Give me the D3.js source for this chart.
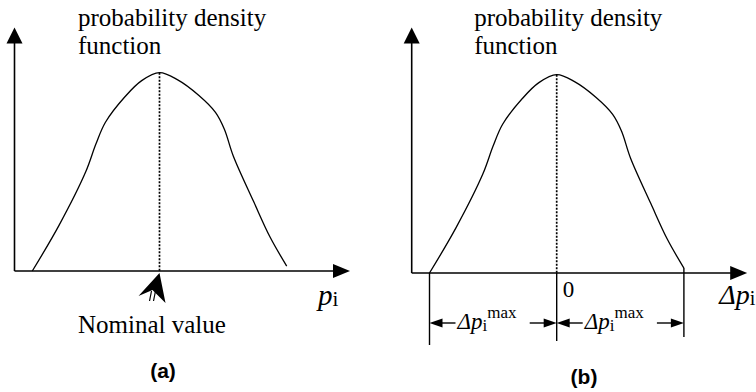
<!DOCTYPE html>
<html>
<head>
<meta charset="utf-8">
<script src="https://cdn.jsdelivr.net/npm/d3@7"></script>
<style>
  html, body { margin: 0; padding: 0; background: #fff; }
  svg { display: block; }
  .serif { font-family: "Liberation Serif", "Times New Roman", serif; fill: #000; }
  .sans { font-family: "Liberation Sans", Arial, sans-serif; font-weight: bold; fill: #000; }
</style>
</head>
<body>
<svg id="chart" width="756" height="392"></svg>
<script>
// Normalised deviation from nominal (−1 … 1 = ±Δp_i^max) and relative density
const deviation = [-1.0, -0.79, -0.58, -0.50, -0.425, -0.27, -0.14, 0, 0.14, 0.31, 0.44, 0.51, 0.58, 0.74, 0.87, 1.0];
const density   = [0, 0.23, 0.50, 0.64, 0.75, 0.88, 0.96, 1, 0.965, 0.885, 0.80, 0.715, 0.58, 0.35, 0.17, 0.025];
const yTitle = ["probability density", "function"];
const panelLabels = ["(a)", "(b)"];
const nominalLabel = "Nominal value";
const zeroLabel = "0";

const svg = d3.select("#chart");
const pts = deviation.map((d, i) => ({ x: d, y: density[i] }));

function arrowHead(g, x, y, dir, len, half) {
  // filled triangle, tip at (x,y), pointing in dir
  let p;
  if (dir === "up") p = [[x, y], [x - half, y + len], [x + half, y + len]];
  else if (dir === "right") p = [[x, y], [x - len, y - half], [x - len, y + half]];
  else p = [[x, y], [x + len, y - half], [x + len, y + half]];
  g.append("path").attr("d", "M" + p.join("L") + "Z").attr("fill", "#000");
}

function panel(dx, dy, kind) {
  const g = svg.append("g").attr("transform", `translate(${dx},${dy})`);
  const x = d3.scaleLinear().domain([-1, 1]).range([32.3, 286.7]);
  const y = d3.scaleLinear().domain([0, 1]).range([271, 72.7]);
  const ox = 14.5, oy = y(0);

  // axes with arrowheads
  g.append("line").attr("x1", ox).attr("y1", oy).attr("x2", ox).attr("y2", 40)
    .attr("stroke", "#000").attr("stroke-width", 1.6);
  arrowHead(g, ox, 27.5 - dy, "up", 16, 8);
  const xTip = 350;
  g.append("line").attr("x1", ox).attr("y1", oy).attr("x2", xTip - 12).attr("y2", oy)
    .attr("stroke", "#000").attr("stroke-width", 1.6);
  arrowHead(g, xTip, oy, "right", 17, 7);

  // density curve
  const line = d3.line().x(d => x(d.x)).y(d => y(d.y)).curve(d3.curveCatmullRom.alpha(0.5));
  g.append("path").datum(pts).attr("d", line)
    .attr("fill", "none").attr("stroke", "#000").attr("stroke-width", 1.3);

  // dotted centre line
  g.append("line").attr("x1", x(0)).attr("x2", x(0)).attr("y1", y(1)).attr("y2", oy)
    .attr("stroke", "#000").attr("stroke-width", 1.7).attr("stroke-dasharray", "2,1.5");

  // y title
  const t = g.append("text").attr("class", "serif").attr("font-size", 25);
  yTitle.forEach((s, i) => t.append("tspan").attr("x", 78 - (kind === "b" ? 1 : 0)).attr("y", 26 + i * 28 - dy).text(s));

  return { g, x, y, oy };
}

// ---- panel (a)
const A = panel(0, 0, "a");
// nominal value pointer
(function () {
  const g = A.g, cx = A.x(0), ty = A.oy + 2;
  g.append("path")
    .attr("d", `M${cx},${ty} L${cx - 21},${ty + 23} L${cx - 7},${ty + 17} L${cx + 6},${ty + 30} Z`)
    .attr("fill", "#000");
  [-8, -4].forEach(o =>
    g.append("line").attr("x1", cx + o).attr("y1", ty + 18).attr("x2", cx + o - 2).attr("y2", ty + 28)
      .attr("stroke", "#000").attr("stroke-width", 1.2));
  g.append("text").attr("class", "serif").attr("font-size", 25)
    .attr("x", 78).attr("y", 333).text(nominalLabel);
  const lab = g.append("text").attr("class", "serif").attr("x", 318).attr("y", 305);
  lab.append("tspan").attr("font-style", "italic").attr("font-size", 29).text("p");
  lab.append("tspan").attr("font-size", 21).attr("dy", 1).text("i");
})();
svg.append("text").attr("class", "sans").attr("font-size", 21).attr("text-anchor", "middle")
  .attr("x", 163).attr("y", 378).text(panelLabels[0]);

// ---- panel (b)
const B = panel(397.2, 2, "b");
(function () {
  const g = B.g, x = B.x, oy = B.oy;
  const xl = x(-1), xc = x(0), xr = x(1);
  // extension lines
  g.append("line").attr("x1", xl).attr("x2", xl).attr("y1", oy).attr("y2", 343).attr("stroke", "#000").attr("stroke-width", 1.4);
  g.append("line").attr("x1", xc).attr("x2", xc).attr("y1", oy).attr("y2", 339).attr("stroke", "#000").attr("stroke-width", 1.4);
  g.append("line").attr("x1", xr).attr("x2", xr).attr("y1", B.y(density[density.length - 1])).attr("y2", 335).attr("stroke", "#000").attr("stroke-width", 1.4);

  const dimY = 321;
  function dim(x0, x1) {
    // arrow back to x0, label, arrow on to x1
    g.append("line").attr("x1", x0 + 8).attr("x2", x0 + 26).attr("y1", dimY).attr("y2", dimY).attr("stroke", "#000").attr("stroke-width", 1.4);
    arrowHead(g, x0, dimY, "left", 13, 4.5);
    g.append("line").attr("x1", x1 - 27).attr("x2", x1 - 8).attr("y1", dimY).attr("y2", dimY).attr("stroke", "#000").attr("stroke-width", 1.4);
    arrowHead(g, x1, dimY, "right", 13, 4.5);
    const t = g.append("text").attr("class", "serif").attr("x", x0 + 28).attr("y", dimY + 6);
    t.append("tspan").attr("font-style", "italic").attr("font-size", 23).text("Δp");
    t.append("tspan").attr("font-size", 17).attr("dy", 2).text("i");
    t.append("tspan").attr("font-size", 17).attr("dy", -13).text("max");
  }
  dim(xl, xc);
  dim(xc, xr);

  g.append("text").attr("class", "serif").attr("font-size", 23).attr("x", xc + 6).attr("y", 295).text(zeroLabel);
  const lab = g.append("text").attr("class", "serif").attr("x", 322).attr("y", 302);
  lab.append("tspan").attr("font-style", "italic").attr("font-size", 28).text("Δp");
  lab.append("tspan").attr("font-size", 20).attr("dy", 1).text("i");
})();
svg.append("text").attr("class", "sans").attr("font-size", 21).attr("text-anchor", "middle")
  .attr("x", 584).attr("y", 384).text(panelLabels[1]);
</script>
</body>
</html>
